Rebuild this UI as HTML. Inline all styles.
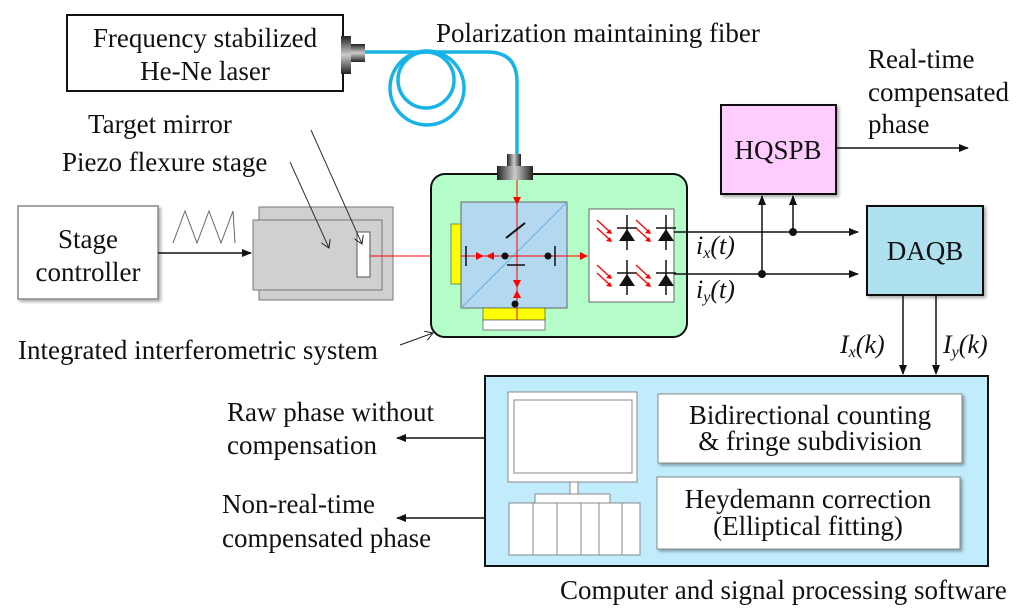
<!DOCTYPE html>
<html><head><meta charset="utf-8"><style>
html,body{margin:0;padding:0;background:#fff;}
svg{display:block;}
</style></head><body>
<svg width="1024" height="613" viewBox="0 0 1024 613" xmlns="http://www.w3.org/2000/svg" font-family="'Liberation Serif','Times New Roman',serif" font-size="27" fill="#111">
<defs>
<marker id="a" markerWidth="10" markerHeight="8" refX="9" refY="4" orient="auto" markerUnits="userSpaceOnUse"><path d="M0,0 L10,4 L0,8 Z" fill="#111"/></marker>
<marker id="ao" markerWidth="10" markerHeight="10" refX="8" refY="5" orient="auto" markerUnits="userSpaceOnUse"><path d="M0,0 L8,5 L0,10" fill="none" stroke="#222" stroke-width="1"/></marker>
<marker id="r" markerWidth="8" markerHeight="8" refX="7" refY="4" orient="auto" markerUnits="userSpaceOnUse"><path d="M0,0 L8,4 L0,8 Z" fill="#f00"/></marker>
<linearGradient id="g" x1="0" x2="1"><stop offset="0" stop-color="#222"/><stop offset=".5" stop-color="#ccc"/><stop offset="1" stop-color="#222"/></linearGradient>
<linearGradient id="gv" x1="0" y1="0" x2="0" y2="1"><stop offset="0" stop-color="#222"/><stop offset=".5" stop-color="#ccc"/><stop offset="1" stop-color="#222"/></linearGradient>
<filter id="sh"><feDropShadow dx="2" dy="2" stdDeviation="1.5" flood-opacity=".35"/></filter>
</defs>

<!-- Laser -->
<rect x="67" y="15" width="276" height="76" fill="#fff" stroke="#111" stroke-width="2"/>
<text x="205" y="47" text-anchor="middle">Frequency stabilized</text>
<text x="205" y="80" text-anchor="middle">He-Ne laser</text>
<rect x="341" y="36" width="10" height="38" fill="url(#gv)"/>
<rect x="351" y="44" width="14" height="18" fill="url(#gv)"/>

<!-- Fiber -->
<g fill="none" stroke="#16b4e6" stroke-width="3.5">
<path d="M365,52 H487 Q517,52 517,82 V155"/>
<circle cx="427" cy="88" r="37"/>
<circle cx="426" cy="80" r="28"/>
</g>
<text x="436" y="42">Polarization maintaining fiber</text>

<!-- Stage controller -->
<rect x="18" y="206" width="140" height="93" fill="#fff" stroke="#888" stroke-width="1.5" filter="url(#sh)"/>
<text x="88" y="248" text-anchor="middle">Stage</text>
<text x="88" y="281" text-anchor="middle">controller</text>
<polyline points="173,243 185,211 197,243 209,211 221,243 233,211 235,243" fill="none" stroke="#666" stroke-width="1"/>
<line x1="158" y1="253" x2="251" y2="253" stroke="#111" stroke-width="1.5" marker-end="url(#a)"/>

<!-- Piezo -->
<rect x="259" y="207" width="134" height="93" fill="#d0d0d0" stroke="#777"/>
<rect x="253" y="220" width="129" height="70" fill="#d0d0d0" stroke="#777"/>
<rect x="357" y="232" width="13" height="45" fill="#fff" stroke="#555"/>
<line x1="370" y1="256" x2="461" y2="256" stroke="#f00" stroke-width="1"/>

<!-- labels -->
<text x="88" y="133">Target mirror</text>
<text x="62" y="171">Piezo flexure stage</text>
<line x1="311" y1="130" x2="362" y2="244" stroke="#333" stroke-width="1" marker-end="url(#ao)"/>
<line x1="290" y1="162" x2="329" y2="248" stroke="#333" stroke-width="1" marker-end="url(#ao)"/>

<!-- Interferometer -->
<rect x="431" y="174" width="256" height="163" rx="14" fill="#b4fcc8" stroke="#111" stroke-width="2"/>
<rect x="507" y="154" width="14" height="12" fill="url(#g)"/>
<rect x="497" y="166" width="36" height="14" fill="url(#g)"/>
<rect x="451" y="224" width="10" height="60" fill="#ffff00" stroke="#555" stroke-width=".7"/>
<rect x="461" y="202" width="106" height="106" fill="#b4d8f0" stroke="#666"/>
<line x1="461" y1="308" x2="567" y2="202" stroke="#6ab4e0" stroke-width="1"/>
<rect x="483" y="308" width="62" height="12" fill="#ffff00" stroke="#555" stroke-width=".7"/>
<rect x="483" y="320" width="62" height="10" fill="#fff" stroke="#555" stroke-width=".7"/>
<line x1="461" y1="256" x2="587" y2="256" stroke="#f00" stroke-width="1" marker-end="url(#r)"/>
<line x1="517" y1="180" x2="517" y2="320" stroke="#f00" stroke-width="1"/>
<path d="M513,197 L517,205 L521,197Z" fill="#f00"/>
<path d="M476,252 L484,256 L476,260Z M494,252 L486,256 L494,260Z" fill="#f00"/>
<path d="M513,280 L517,288 L521,280Z M513,298 L517,290 L521,298Z" fill="#f00"/>
<line x1="506" y1="238" x2="525" y2="223" stroke="#111" stroke-width="2"/>
<line x1="507" y1="265" x2="525" y2="265" stroke="#111" stroke-width="1.5"/>
<line x1="466" y1="246" x2="466" y2="266" stroke="#111" stroke-width="1.5"/>
<line x1="555" y1="246" x2="555" y2="266" stroke="#111" stroke-width="1.5"/>
<circle cx="505" cy="256" r="3.5" fill="#111"/>
<circle cx="548" cy="256" r="3.5" fill="#111"/>
<circle cx="515" cy="304" r="3.5" fill="#111"/>

<!-- photodiodes -->
<rect x="589" y="209" width="85" height="93" fill="#fff" stroke="#666"/>
<g id="pd">
<line x1="627" y1="215" x2="627" y2="250" stroke="#111" stroke-width="1.5"/>
<line x1="617" y1="228" x2="637" y2="228" stroke="#111" stroke-width="1.5"/>
<path d="M619,241 L635,241 L627,229Z" fill="#111"/>
<line x1="597" y1="220" x2="610" y2="232" stroke="#f00" stroke-width="1.3"/>
<path d="M612,234 L606,233 L610,229Z" fill="#f00"/>
<line x1="597" y1="228" x2="610" y2="240" stroke="#f00" stroke-width="1.3"/>
<path d="M612,242 L606,241 L610,237Z" fill="#f00"/>
</g>
<use href="#pd" x="39"/>
<use href="#pd" y="45"/>
<use href="#pd" x="39" y="45"/>
<line x1="674" y1="232" x2="858" y2="232" stroke="#111" stroke-width="1.5" marker-end="url(#a)"/>
<line x1="674" y1="274" x2="858" y2="274" stroke="#111" stroke-width="1.5" marker-end="url(#a)"/>
<text x="696" y="254" font-style="italic" font-size="26">i<tspan font-size="16" dy="4">x</tspan><tspan dy="-4">(t)</tspan></text>
<text x="696" y="298" font-style="italic" font-size="26">i<tspan font-size="16" dy="4">y</tspan><tspan dy="-4">(t)</tspan></text>
<circle cx="793" cy="232" r="4" fill="#111"/>
<circle cx="762" cy="274" r="4" fill="#111"/>
<line x1="793" y1="232" x2="793" y2="196" stroke="#111" stroke-width="1.5" marker-end="url(#a)"/>
<line x1="762" y1="274" x2="762" y2="196" stroke="#111" stroke-width="1.5" marker-end="url(#a)"/>

<text x="18" y="359">Integrated interferometric system</text>
<line x1="400" y1="345" x2="433" y2="333" stroke="#222" stroke-width="1" marker-end="url(#ao)"/>

<!-- HQSPB -->
<rect x="721" y="105" width="115" height="89" fill="#ffccff" stroke="#111" stroke-width="2" filter="url(#sh)"/>
<text x="778" y="159" text-anchor="middle">HQSPB</text>
<line x1="836" y1="148" x2="968" y2="148" stroke="#111" stroke-width="1.5" marker-end="url(#a)"/>
<text x="868" y="68">Real-time</text>
<text x="868" y="101">compensated</text>
<text x="868" y="133">phase</text>

<!-- DAQB -->
<rect x="867" y="206" width="116" height="89" fill="#aee0ee" stroke="#111" stroke-width="2" filter="url(#sh)"/>
<text x="925" y="260" text-anchor="middle">DAQB</text>
<line x1="903" y1="295" x2="903" y2="374" stroke="#111" stroke-width="1.5" marker-end="url(#a)"/>
<line x1="936" y1="295" x2="936" y2="374" stroke="#111" stroke-width="1.5" marker-end="url(#a)"/>
<text x="840" y="353" font-style="italic" font-size="26">I<tspan font-size="16" dy="4">x</tspan><tspan dy="-4">(k)</tspan></text>
<text x="943" y="353" font-style="italic" font-size="26">I<tspan font-size="16" dy="4">y</tspan><tspan dy="-4">(k)</tspan></text>

<!-- Computer -->
<rect x="485" y="376" width="503" height="190" fill="#c0ecfb" stroke="#111" stroke-width="2"/>
<rect x="508" y="392" width="129" height="90" fill="#fff" stroke="#888"/>
<rect x="514" y="400" width="118" height="73" fill="#fff" stroke="#888"/>
<rect x="570" y="482" width="8" height="12" fill="#fff" stroke="#888"/>
<rect x="535" y="494" width="75" height="9" fill="#fff" stroke="#888"/>
<rect x="509" y="503" width="131" height="52" fill="#fff" stroke="#888"/>
<g stroke="#888"><line x1="533" y1="503" x2="533" y2="555"/><line x1="557" y1="503" x2="557" y2="555"/><line x1="581" y1="503" x2="581" y2="555"/><line x1="599" y1="503" x2="599" y2="555"/><line x1="622" y1="503" x2="622" y2="555"/></g>
<rect x="658" y="394" width="304" height="69" fill="#fff" stroke="#888" filter="url(#sh)"/>
<text x="810" y="424" text-anchor="middle">Bidirectional counting</text>
<text x="810" y="450" text-anchor="middle">&amp; fringe subdivision</text>
<rect x="657" y="477" width="303" height="72" fill="#fff" stroke="#888" filter="url(#sh)"/>
<text x="808" y="508" text-anchor="middle">Heydemann correction</text>
<text x="808" y="535" text-anchor="middle">(Elliptical fitting)</text>
<text x="560" y="599">Computer and signal processing software</text>

<line x1="485" y1="438" x2="397" y2="438" stroke="#111" stroke-width="1.5" marker-end="url(#a)"/>
<line x1="485" y1="518" x2="397" y2="518" stroke="#111" stroke-width="1.5" marker-end="url(#a)"/>
<text x="227" y="421">Raw phase without</text>
<text x="227" y="454">compensation</text>
<text x="222" y="513">Non-real-time</text>
<text x="222" y="547">compensated phase</text>
</svg>
</body></html>
